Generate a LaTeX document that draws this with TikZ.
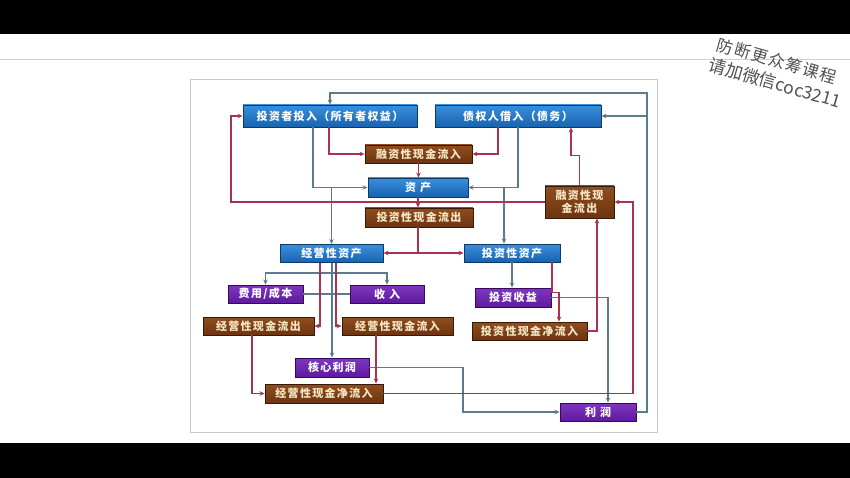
\documentclass[tikz,border=0pt]{standalone}
\usepackage{fontspec}
\newfontfamily\cjk[LetterSpace=12]{Noto Sans CJK SC}
\newfontfamily\wmfont{Noto Sans CJK SC}
\newfontfamily\wmfontsp[LetterSpace=8]{Noto Sans CJK SC}
\usetikzlibrary{arrows.meta}
\definecolor{bluelt}{HTML}{3A8FDC}
\definecolor{bluemd}{HTML}{1763B0}
\definecolor{bluedk}{HTML}{0E3A68}
\definecolor{brownlt}{HTML}{8E4E1E}
\definecolor{brownmd}{HTML}{6E3410}
\definecolor{browndk}{HTML}{3A1806}
\definecolor{purplelt}{HTML}{7E36C0}
\definecolor{purplemd}{HTML}{5F1A9E}
\definecolor{purpledk}{HTML}{340A5E}
\definecolor{creamtext}{HTML}{F5E6C6}
\definecolor{slate}{HTML}{5C7C8E}
\definecolor{crim}{HTML}{A8324F}
\definecolor{wmgray}{HTML}{505050}
\tikzset{
  box/.style={rectangle, inner sep=0pt, line width=0.9pt,
    font=\cjk\bfseries\fontsize{11}{13}\selectfont},
  bluebox/.style={box, draw=bluedk, top color=bluelt, bottom color=bluemd, text=white},
  brownbox/.style={box, draw=browndk, top color=brownlt, bottom color=brownmd, text=creamtext},
  purplebox/.style={box, draw=purpledk, top color=purplelt, bottom color=purplemd, text=white},
  grayline/.style={draw=slate, line width=1.1pt},
  redline/.style={draw=crim, line width=1.1pt},
  tip/.style={-{Stealth[length=5pt,width=4.5pt]}},
  wmtext/.style={rotate=-16, text=wmgray, inner sep=0pt}
}
\begin{document}
\begin{tikzpicture}[x=1pt,y=-1pt]
\useasboundingbox (0,0) rectangle (850,478);
\fill[black] (0,0) rectangle (850,34);
\fill[white] (0,34) rectangle (850,443);
\fill[black] (0,443) rectangle (850,478);
\draw[black!18, line width=0.8pt] (0,59) -- (850,59);
\draw[black!22, fill=white, line width=1pt] (190,80) rectangle (657,432);

% watermark
\node[wmtext, font=\wmfontsp\fontsize{16.5}{18}\selectfont] (wm1) at (777,61) {防断更众筹课程};
\node[wmtext, font=\wmfont\fontsize{17.5}{19}\selectfont] (wm2) at (775,83) {请加微信coc3211};

% boxes
\node[bluebox,minimum width=174pt,minimum height=22pt] (inv) at (330,116) {投资者投入（所有者权益）};
\node[bluebox,minimum width=166pt,minimum height=22pt] (debt) at (518,116) {债权人借入（债务）};
\node[brownbox,minimum width=107pt,minimum height=18pt] (finin) at (418.5,154) {融资性现金流入};
\node[bluebox,minimum width=100pt,minimum height=19pt] (asset) at (418,187.5) {资\hspace{4pt}产};
\node[brownbox,minimum width=108pt,minimum height=19pt] (invout) at (419,217.5) {投资性现金流出};
\node[brownbox,minimum width=69pt,minimum height=32pt,align=center] (finout) at (579.5,202) {融资性现\\金流出};
\node[bluebox,minimum width=103pt,minimum height=18pt] (opasset) at (331.5,253.5) {经营性资产};
\node[bluebox,minimum width=96pt,minimum height=18pt] (invasset) at (512,253) {投资性资产};
\node[purplebox,minimum width=75pt,minimum height=18pt] (cost) at (265.5,294) {费用/成本};
\node[purplebox,minimum width=74pt,minimum height=18pt] (rev) at (387,294) {收\hspace{4pt}入};
\node[purplebox,minimum width=76pt,minimum height=19pt] (gain) at (513,297.5) {投资收益};
\node[brownbox,minimum width=111pt,minimum height=18pt] (opout) at (258.5,326) {经营性现金流出};
\node[brownbox,minimum width=111pt,minimum height=18pt] (opin) at (397.5,326) {经营性现金流入};
\node[brownbox,minimum width=115pt,minimum height=18pt] (invnet) at (529.5,331) {投资性现金净流入};
\node[purplebox,minimum width=74pt,minimum height=19pt] (core) at (332,367.5) {核心利润};
\node[brownbox,minimum width=118pt,minimum height=19pt] (opnet) at (324,393.5) {经营性现金净流入};
\node[purplebox,minimum width=76pt,minimum height=18pt] (profit) at (598,412) {利\hspace{4pt}润};

% helper coordinates
\coordinate (rtop) at (647,93);
\coordinate (lft) at (231,202);
\coordinate (j1) at (418,253);
\coordinate (j2) at (332,273);
\coordinate (g463) at (463,0);
\coordinate (r633) at (633,0);
\coordinate (g504) at ([xshift=-8pt]invasset.north);
\coordinate (r376) at ([xshift=-21.5pt]opin.south);

% gray connectors
\draw[grayline,tip] (profit.east) -| (rtop) -| (inv.north);
\draw[grayline,tip] (debt.east -| rtop) -- (debt.east);
\draw[grayline,tip] ([xshift=-17pt]inv.south) |- (asset.west);
\draw[grayline,tip] (debt.south) |- (asset.east);
\draw[grayline,tip] (asset.west -| opasset.north) -- (opasset.north);
\draw[grayline,tip] (g504 |- asset.east) -- (g504);
\draw[grayline] (opasset.south -| j2) -- (j2);
\draw[grayline,tip] (j2) -| (cost.north);
\draw[grayline,tip] (j2) -| (rev.north);
\draw[grayline] (cost.east) -- (rev.west);
\draw[grayline,tip] (j2) -- (core.north -| j2);
\draw[grayline,tip] (core.east) -- (core.east -| g463) |- (profit.west);
\draw[grayline,tip] (invasset.south) -- (invasset.south |- gain.north);
\draw[grayline,tip] (gain.east) -| ([xshift=10pt]profit.north);

% red connectors
\draw[redline,tip] ([xshift=-1pt]inv.south) |- (finin.west);
\draw[redline,tip] ([xshift=-20pt]debt.south) |- (finin.east);
\draw[redline,tip] (finin.south) -- (finin.south |- asset.north);
\draw[redline,tip] (asset.south) -- (asset.south |- invout.north);
\draw[redline,tip] (finout.west) -- (lft) |- (inv.west);
\draw[redline,tip] (finout.north) -- ++(0,-30) -| ([xshift=53pt]debt.south);
\draw[redline] (invout.south -| j1) -- (j1);
\draw[redline,tip] (j1) -- (j1 -| opasset.east);
\draw[redline,tip] (j1) -- (j1 -| invasset.west);
\draw[redline,tip] ([xshift=-11.5pt]opasset.south) |- (opout.east);
\draw[redline,tip] ([xshift=4.5pt]opasset.south) |- (opin.west);
\draw[redline,tip] ([xshift=-6.5pt]opout.south) |- (opnet.west);
\draw[redline,tip] (r376) -- (r376 |- opnet.north);
\draw[redline,tip] (opnet.east) -- (opnet.east -| r633) |- (finout.east);
\draw[redline,tip] ([xshift=40pt]invasset.south) -- ++(0,30) -| ([xshift=29.5pt]invnet.north);
\draw[redline,tip] (invnet.east) -| ([xshift=17.5pt]finout.south);
\end{tikzpicture}
\end{document}
